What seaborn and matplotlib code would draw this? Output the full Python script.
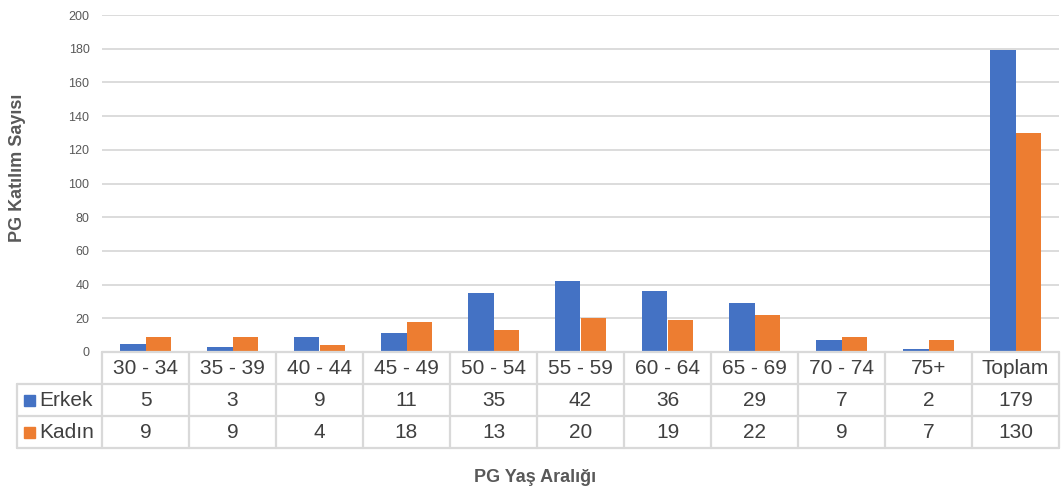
import matplotlib
matplotlib.use("Agg")
import matplotlib.pyplot as plt
import seaborn as sns
import pandas as pd
from matplotlib.patches import Rectangle

# Data
age_groups = ["30 - 34", "35 - 39", "40 - 44", "45 - 49", "50 - 54", "55 - 59",
              "60 - 64", "65 - 69", "70 - 74", "75+", "Toplam"]
erkek = [5, 3, 9, 11, 35, 42, 36, 29, 7, 2, 179]
kadin = [9, 9, 4, 18, 13, 20, 19, 22, 9, 7, 130]
series_names = ["Erkek", "Kadın"]
series_colors = ["#4472C4", "#ED7D31"]
y_ticks = list(range(0, 201, 20))

sns.set_theme(style="white")
plt.rcParams["font.family"] = ["Liberation Sans", "DejaVu Sans"]

df = pd.DataFrame({
    "grup": age_groups * 2,
    "seri": [series_names[0]] * len(age_groups) + [series_names[1]] * len(age_groups),
    "deger": erkek + kadin,
})

W, H = 1061, 492
fig = plt.figure(figsize=(W / 100, H / 100), dpi=100)

# plot area in pixel units
px_left, px_right, px_top, px_bottom = 102, 1059, 15, 352
ax = fig.add_axes([px_left / W, 1 - px_bottom / H,
                   (px_right - px_left) / W, (px_bottom - px_top) / H])

sns.barplot(data=df, x="grup", y="deger", hue="seri", order=age_groups,
            hue_order=series_names, palette=series_colors, width=0.575,
            gap=0, saturation=1, legend=False, ax=ax, linewidth=0)

ax.set_xlim(-0.5, len(age_groups) - 0.5)
ax.set_ylim(0, 200)
ax.set_yticks(y_ticks)
ax.set_yticklabels([str(t) for t in y_ticks], fontsize=9, color="#595959")
ax.tick_params(axis="y", length=0, pad=9)
ax.set_xticks([])
ax.set_xlabel("")
ax.set_ylabel("")
for s in ax.spines.values():
    s.set_visible(False)
ax.grid(axis="y", color="#d9d9d9", linewidth=1.3)
ax.set_axisbelow(True)

# data table below the plot area
ov = fig.add_axes([0, 0, 1, 1])
ov.set_xlim(0, W)
ov.set_ylim(H, 0)
ov.axis("off")
ov.patch.set_alpha(0)

line_c = "#d9d9d9"
lw = 1.6
col_w = (px_right - px_left) / len(age_groups)
rows_y = [352, 384, 416, 448]
tbl_left = 17

# horizontal lines
ov.plot([px_left, px_right], [rows_y[0], rows_y[0]], color=line_c, lw=lw)
for yy in rows_y[1:]:
    ov.plot([tbl_left, px_right], [yy, yy], color=line_c, lw=lw)
# vertical lines
for i in range(len(age_groups) + 1):
    xx = px_left + i * col_w
    ov.plot([xx, xx], [rows_y[0], rows_y[-1]], color=line_c, lw=lw)
ov.plot([tbl_left, tbl_left], [rows_y[1], rows_y[-1]], color=line_c, lw=lw)

txt_c = "#404040"
fs = 15
for i, g in enumerate(age_groups):
    cx = px_left + (i + 0.5) * col_w
    ov.text(cx, (rows_y[0] + rows_y[1]) / 2 + 1, g, ha="center", va="center",
            fontsize=fs, color=txt_c)
    ov.text(cx, (rows_y[1] + rows_y[2]) / 2 + 1, str(erkek[i]), ha="center",
            va="center", fontsize=fs, color=txt_c)
    ov.text(cx, (rows_y[2] + rows_y[3]) / 2 + 1, str(kadin[i]), ha="center",
            va="center", fontsize=fs, color=txt_c)

for r, (name, col) in enumerate(zip(series_names, series_colors)):
    cy = (rows_y[r + 1] + rows_y[r + 2]) / 2
    ov.add_patch(Rectangle((24, cy - 5.5), 11, 11, color=col))
    ov.text(39, cy + 1, name, ha="left", va="center", fontsize=fs, color=txt_c)

# axis titles
ov.text(535, 478, "PG Yaş Aralığı", ha="center", va="center", fontsize=13,
        fontweight="bold", color="#595959")
ov.text(18, 168, "PG Katılım Sayısı", ha="center", va="center", fontsize=13,
        fontweight="bold", color="#595959", rotation=90)

fig.savefig("out.png", dpi=100, facecolor="white")
